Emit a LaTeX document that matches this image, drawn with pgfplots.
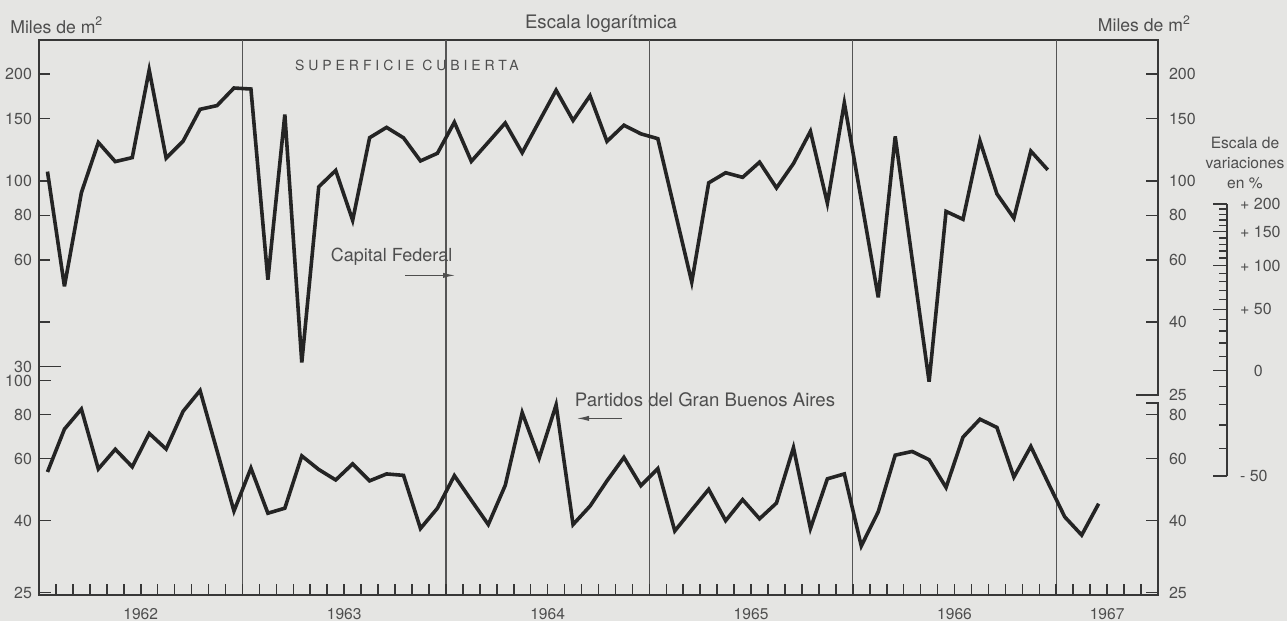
\documentclass[border=0pt]{standalone}
\usepackage{fontspec}
\setmainfont{TeX Gyre Heros}
\usepackage{pgfplots}
\usepackage{pgfplotstable}
\pgfplotsset{compat=1.18}
\usetikzlibrary{arrows.meta}
\definecolor{paper}{RGB}{229,229,227}
\definecolor{ink}{RGB}{36,36,36}
\definecolor{txt}{RGB}{78,78,78}
\definecolor{framec}{RGB}{55,55,55}
\definecolor{gridc}{RGB}{85,85,85}

% Capital Federal, monthly, x=0 is January 1962
\pgfplotstableread{
x y
0 106.3
1 50.5
2 92.7
3 128.4
4 113.4
5 116.4
6 205.4
7 116.0
8 129.5
9 159.2
10 163.1
11 182.8
12 181.6
13 52.7
14 153.9
15 30.8
16 96.3
17 107.1
18 77.5
19 132.4
20 141.6
21 132.3
22 113.9
23 119.7
24 146.4
25 113.6
26 128.6
27 145.7
28 120.1
29 147.2
30 180.2
31 148.1
32 173.9
33 129.3
34 143.6
35 135.8
36 131.6
37 82.6
38 51.9
39 98.8
40 105.5
41 102.4
42 113.0
43 95.6
44 112.0
45 138.0
46 86.6
47 166.0
48 88.4
49 47.0
50 133.5
51 60.3
52 27.2
53 82.1
54 78.0
55 129.7
56 92.0
57 78.6
58 121.4
59 107.5
}\capital

% Partidos del Gran Buenos Aires
\pgfplotstableread{
x y
0 55.0
1 72.8
2 83.0
3 56.1
4 63.8
5 56.9
6 70.8
7 63.9
8 81.8
9 93.7
10 63.2
11 42.6
12 56.4
13 42.0
14 43.4
15 61.1
16 55.9
17 52.2
18 58.0
19 51.9
20 54.3
21 53.8
22 38.0
23 43.4
24 53.7
25 45.7
26 39.0
27 50.4
28 81.1
29 60.2
30 85.3
31 39.0
32 44.0
33 51.9
34 60.5
35 50.3
36 56.2
37 37.4
38 42.9
39 49.1
40 40.0
41 45.9
42 40.5
43 44.9
44 64.5
45 38.0
46 52.6
47 54.3
48 33.9
49 42.4
50 61.4
51 62.9
52 59.6
53 49.7
54 69.1
55 77.7
56 73.6
57 53.2
58 65.0
59 51.5
60 41.0
61 36.4
62 44.7
}\partidos

\pgfplotsset{
  chartbox/.style={
    scale only axis, width=559.5pt, height=277.5pt,
    xmin=-0.5, xmax=65.5,
    tick style={framec, line width=0.8pt},
    tick label style={txt, font=\fontsize{8}{9}\selectfont},
    major tick length=6pt,
  },
  nolines/.style={separate axis lines, axis line style={draw=none}},
}

\begin{document}
\begin{tikzpicture}
\path[use as bounding box, fill=paper] (-19.5pt,-13pt) rectangle (624pt,297.5pt);

% frame, year lines, year labels, bottom series
\begin{axis}[chartbox, ymode=log, ymin=24.6, ymax=928,
  ytick=\empty,
  axis line style={framec, line width=0.9pt},
  xtick={5.5,17.5,29.5,41.5,53.5,62.5},
  xticklabels={1962,1963,1964,1965,1966,1967},
  xtick pos=left,
  major tick length=0pt,
  extra x ticks={11.5,23.5,35.5,47.5,59.5},
  extra x tick labels={},
  extra x tick style={grid=major},
  major grid style={gridc, line width=0.6pt},
  xticklabel style={yshift=-3.3pt, font=\fontsize{7.8}{9}\selectfont},
]
\addplot[ink, line width=1.8pt, mark=none, miter limit=6] table[x=x,y=y] {\partidos};
\end{axis}

% break of the right frame line between the two panels
\fill[paper] (557.5pt,96.4pt) rectangle (561.5pt,99.6pt);
\draw[framec, line width=0.8pt] (553.5pt,95.9pt) -- (559.95pt,95.9pt);

% top series, month ticks, left scale of the top panel
\begin{axis}[chartbox, ymode=log, ymin=6.82, ymax=249.6, nolines,
  xtick={0.5,1.5,...,64.5}, xticklabels={}, xtick pos=left,
  major tick length=5.5pt,
  ytick={40,60,80,100,150,200}, yticklabels={,60,80,100,150,200},
  ytick pos=left,
  extra y ticks={30}, extra y tick labels={30},
  extra y tick style={major tick length=11pt},
]
\addplot[ink, line width=1.8pt, mark=none, miter limit=6] table[x=x,y=y] {\capital};
\end{axis}

% left scale of the bottom panel
\begin{axis}[chartbox, ymode=log, ymin=24.6, ymax=928, nolines,
  xtick=\empty,
  ytick={25,40,60,80,100}, yticklabels={25,40,60,80,100},
  ytick pos=left,
]
\end{axis}

% right scale of the top panel
\begin{axis}[chartbox, ymode=log, ymin=6.82, ymax=249.6, nolines,
  xtick=\empty,
  ytick={40,60,80,100,150,200}, yticklabels={40,60,80,100,150,200},
  ytick pos=right, yticklabel pos=right,
  yticklabel style={xshift=2pt},
  extra y ticks={25}, extra y tick labels={25},
  extra y tick style={major tick length=11pt},
]
\end{axis}

% right scale of the bottom panel
\begin{axis}[chartbox, ymode=log, ymin=24.6, ymax=928, nolines,
  xtick=\empty,
  ytick={25,40,60,80}, yticklabels={25,40,60,80},
  ytick pos=right, yticklabel pos=right,
  yticklabel style={xshift=2pt},
]
\end{axis}

% scale of percentage variations
\begin{axis}[scale only axis, width=20pt, height=136pt,
  at={(574pt,59.5pt)}, anchor=south west,
  xmin=0, xmax=1, ymode=log, ymin=0.5, ymax=3,
  nolines,
  xtick=\empty,
  ytick={0.5,1,1.5,2,2.5,3},
  yticklabels={- 50,\phantom{+ }0,+ 50,+ 100,+ 150,+ 200},
  minor ytick={0.6,0.7,0.8,0.9,1.1,1.2,1.3,1.4,1.6,1.7,1.8,1.9,2.1,2.2,2.3,2.4,2.6,2.7,2.8,2.9},
  ytick pos=right, yticklabel pos=right,
  major tick length=7pt, minor tick length=4pt,
  tick style={framec, line width=0.7pt},
  yticklabel style={anchor=west, xshift=3pt, txt, font=\fontsize{8}{9}\selectfont},
]
\end{axis}

% vertical line of the percentage scale
\draw[framec, line width=0.8pt] (594pt,59.5pt) -- (594pt,195.5pt);

% texts
\begin{scope}[every node/.style={txt, inner sep=0pt}]
\node[anchor=west, font=\fontsize{8.8}{10}\selectfont] at (-14.5pt,285pt) {Miles de m\textsuperscript{2}};
\node[font=\fontsize{9.3}{10}\selectfont] at (281pt,285.5pt) {Escala logarítmica};
\node[font=\fontsize{8.8}{10}\selectfont] at (552.7pt,285.7pt) {Miles de m\textsuperscript{2}};
\node[font=\fontsize{7}{8}\selectfont\addfontfeature{LetterSpace=28}] at (184pt,264.7pt) {SUPERFICIE CUBIERTA};
\node[font=\fontsize{9}{10}\selectfont] at (176.3pt,169.3pt) {Capital Federal};
\node[font=\fontsize{9.3}{10}\selectfont] at (333pt,97.5pt) {Partidos del Gran Buenos Aires};
\node[align=center, font=\fontsize{7.8}{10}\selectfont] at (603pt,216pt) {Escala de\\variaciones\\en \%};
\end{scope}
\draw[txt, line width=0.5pt, -{Latex[length=6pt,width=2.6pt]}] (183pt,159.8pt) -- (208pt,159.8pt);
\draw[txt, line width=0.5pt, -{Latex[length=6pt,width=2.6pt]}] (291.5pt,88.3pt) -- (269pt,88.3pt);
\end{tikzpicture}
\end{document}
